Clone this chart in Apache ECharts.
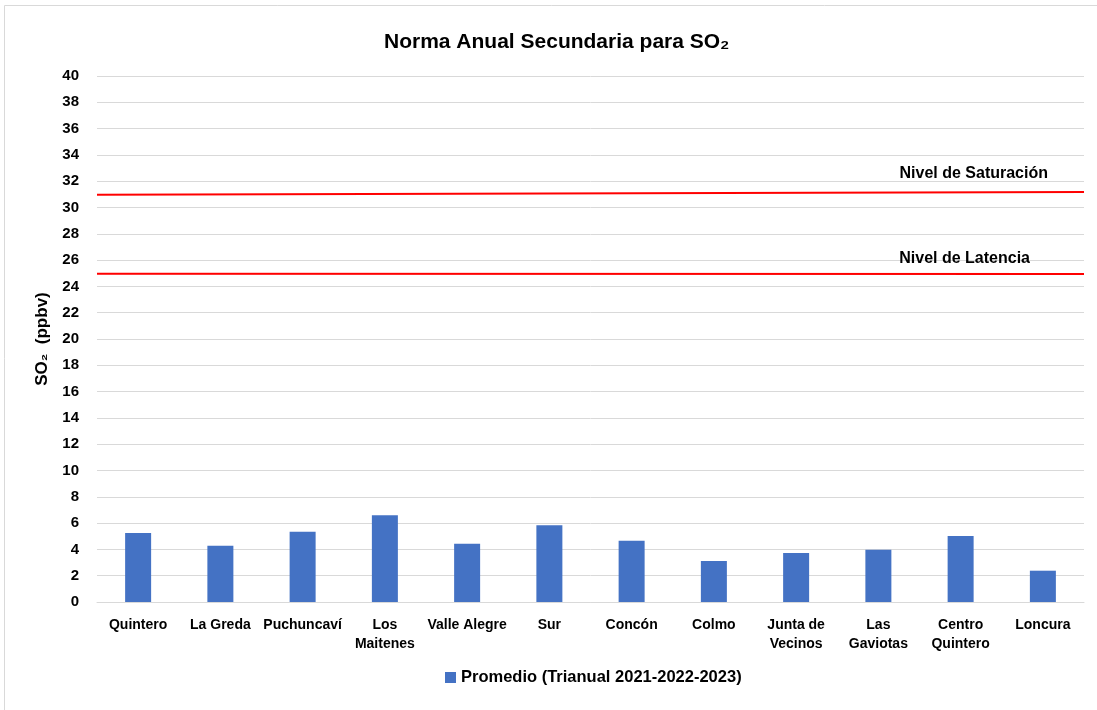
<!DOCTYPE html>
<html>
<head>
<meta charset="utf-8">
<script src="https://cdn.jsdelivr.net/npm/echarts@6/dist/echarts.min.js"></script>
<style>
  html, body { margin: 0; padding: 0; background: #fff; }
  #chart { width: 1097px; height: 710px; }
</style>
</head>
<body>
<div id="chart"></div>
<script>
// Stations (x axis categories)
var stations = ['Quintero', 'La Greda', 'Puchuncaví', 'Los\nMaitenes', 'Valle Alegre', 'Sur',
    'Concón', 'Colmo', 'Junta de\nVecinos', 'Las\nGaviotas', 'Centro\nQuintero', 'Loncura'];

// Promedio trianual 2021-2022-2023 (ppbv)
var promedio = [5.25, 4.28, 5.35, 6.59, 4.43, 5.83, 4.66, 3.12, 3.73, 3.98, 5.02, 2.38];

// Threshold lines: value at left edge and at right edge of plot
var saturacion = [30.97, 31.18];
var latencia = [24.97, 24.94];

var yTicks = { min: 0, max: 40, interval: 2 };

var font = '"Liberation Sans", Arial, sans-serif';

var chart = echarts.init(document.getElementById('chart'));

function thresholdSeries(name, vals, labelOffset) {
    return {
        name: name,
        type: 'line',
        xAxisIndex: 1,
        symbol: 'none',
        silent: true,
        lineStyle: { color: '#ff0000', width: 2 },
        endLabel: {
            show: true,
            formatter: name,
            align: 'right',
            offset: labelOffset,
            color: '#000',
            fontWeight: 'bold',
            fontSize: 16,
            fontFamily: font
        },
        data: [[0, vals[0]], [1, vals[1]]]
    };
}

chart.setOption({
    animation: false,
    textStyle: { fontFamily: font },
    title: {
        text: 'Norma Anual Secundaria para SO₂',
        left: 379,
        top: 27,
        textStyle: { fontSize: 21, fontWeight: 'bold', color: '#000', fontFamily: font }
    },
    graphic: [{
        type: 'rect',
        shape: { x: 4.5, y: 5.5, width: 1200, height: 800 },
        style: { fill: 'none', stroke: '#d9d9d9', lineWidth: 1 },
        silent: true
    }],
    legend: {
        data: ['Promedio (Trianual 2021-2022-2023)'],
        bottom: 19,
        left: 440,
        itemWidth: 11,
        itemHeight: 11,
        itemGap: 4,
        icon: 'rect',
        textStyle: { fontSize: 16.5, fontWeight: 'bold', color: '#000', fontFamily: font }
    },
    grid: { left: 97, right: 13, top: 76, bottom: 108 },
    xAxis: [{
        type: 'category',
        data: stations,
        axisLine: { show: true, lineStyle: { color: '#d9d9d9', width: 1 } },
        axisTick: { show: false },
        axisLabel: {
            interval: 0,
            color: '#000',
            fontWeight: 'bold',
            fontSize: 14,
            lineHeight: 19,
            margin: 14,
            fontFamily: font
        }
    }, {
        type: 'value',
        min: 0,
        max: 1,
        show: false
    }],
    yAxis: {
        type: 'value',
        min: yTicks.min,
        max: yTicks.max,
        interval: yTicks.interval,
        name: 'SO₂  (ppbv)',
        nameLocation: 'middle',
        nameGap: 46,
        nameTextStyle: { color: '#000', fontWeight: 'bold', fontSize: 17, fontFamily: font },
        axisLine: { show: false },
        axisTick: { show: false },
        axisLabel: { color: '#000', fontWeight: 'bold', fontSize: 15, margin: 18, fontFamily: font },
        splitLine: { lineStyle: { color: '#d9d9d9', width: 1 } }
    },
    series: [{
        name: 'Promedio (Trianual 2021-2022-2023)',
        type: 'bar',
        barWidth: 26,
        itemStyle: { color: '#4472c4' },
        data: promedio
    },
    thresholdSeries('Nivel de Saturación', saturacion, [-44, -18]),
    thresholdSeries('Nivel de Latencia', latencia, [-62, -15])
    ]
});
</script>
</body>
</html>
